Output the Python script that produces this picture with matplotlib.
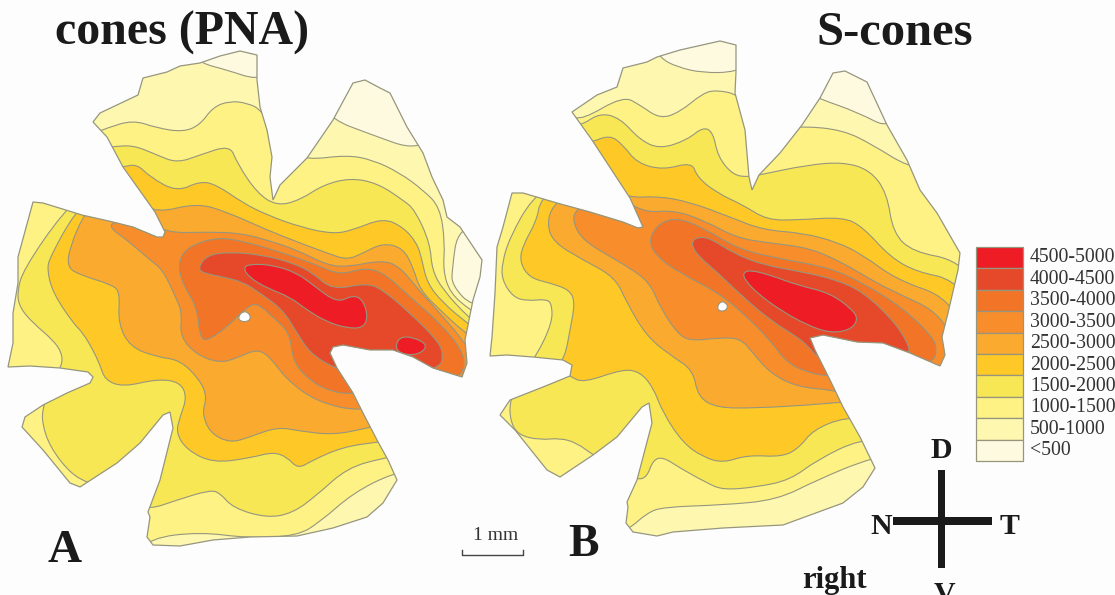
import matplotlib
matplotlib.use('Agg')
import matplotlib.pyplot as plt
from matplotlib.patches import PathPatch, Polygon, Rectangle
from matplotlib.path import Path

plt.rcParams['font.family'] = ['Liberation Serif', 'DejaVu Serif']

# Density classes, lowest first
class_labels = ['<500', '500-1000', '1000-1500', '1500-2000', '2000-2500',
                '2500-3000', '3000-3500', '3500-4000', '4000-4500', '4500-5000']
class_colors = ['#FEFADF', '#FEF7B0', '#FDF283', '#F7E755', '#FEC926',
                '#FBAA30', '#F78E2B', '#F27426', '#E5492A', '#EE1C25']

# Panel A (all cones) in image pixels
a_outline = [(200,63),(220,56),(240,51),(257,55),(257,80),(260,107),(267,130),(272,157),(270,177),(273,200),
             (280,185),(307,158),(333,120),(353,83),(365,80),(380,88),(390,93),(407,127),(423,153),(432,177),
             (443,200),(447,217),(460,227),(482,260),(480,277),(473,300),(465,340),(467,363),(462,377),(433,368),
             (413,357),(393,350),(370,350),(343,345),(333,347),(330,353),(337,368),(353,393),(363,413),(377,440),
             (388,460),(397,480),(383,503),(367,517),(333,528),(297,536),(250,537),(213,540),(180,546),(153,545),
             (147,537),(150,517),(148,512),(160,480),(173,428),(170,412),(163,415),(140,443),(117,463),(80,487),
             (70,483),(43,450),(22,427),(25,417),(43,405),(67,393),(90,383),(93,377),(88,372),(60,368),
             (30,366),(8,367),(13,343),(13,313),(18,283),(18,257),(33,202),(43,203),(82,215),(113,222),
             (133,227),(157,237),(163,237),(165,232),(155,212),(123,167),(107,137),(93,122),(100,113),(138,95),
             (143,78),(167,72),(180,66)]
a_hole = [(238,317),(243,311),(249,313),(251,319),(246,322),(240,321)]

a_lt500 = [[(200,63),(227,70),(257,80),(275,70),(240,35),(190,50)],
           [(333,120),(367,133),(420,152),(445,120),(370,60),(320,100)],
           [(458,227),(452,270),(452,285),(472,307),(500,300),(500,220)]]
a_ge1000 = [(95,133),(107,128),(133,120),(157,128),(183,132),(200,125),(213,107),(230,101),(247,103),(262,110),
            (285,150),(307,160),(347,155),(373,160),(400,173),(423,190),(440,207),(445,243),(443,270),(450,293),
            (470,310),(500,330),(500,420),(420,470),(393,473),(353,493),(320,522),(297,536),(247,538),(200,532),
            (150,538),(130,560),(0,520),(0,400),(20,190)]
a_ge1500 = [(112,147),(133,145),(157,155),(177,163),(200,155),(230,145),(237,163),(257,193),(277,206),(300,200),
            (323,185),(350,178),(377,183),(403,200),(415,210),(430,243),(432,270),(443,290),(468,317),(495,340),
            (495,440),(400,456),(383,458),(347,468),(317,495),(293,513),(267,518),(233,508),(220,493),(210,490),
            (177,500),(148,510),(130,500),(88,483),(70,473),(50,447),(42,423),(43,407),(50,385),(62,366),
            (62,353),(53,340),(33,323),(20,308),(17,293),(23,270),(63,212),(90,190),(100,147)]
a_ge2000 = [(123,167),(137,164),(150,177),(177,192),(200,181),(217,185),(243,203),(267,215),(300,227),(333,234),
            (353,230),(383,218),(403,227),(417,243),(422,260),(427,283),(443,303),(467,323),(490,340),(490,420),
            (400,440),(377,442),(343,447),(313,460),(298,469),(287,457),(273,452),(250,458),(213,463),(187,450),
            (176,433),(180,417),(187,397),(180,382),(157,379),(123,387),(105,380),(100,365),(93,350),(83,333),
            (73,323),(53,293),(47,270),(50,257),(75,212),(100,190),(115,167)]
a_ge2500 = [(83,216),(70,247),(67,267),(80,275),(113,285),(120,293),(118,323),(130,347),(157,357),(180,360),
            (200,380),(207,397),(202,413),(210,433),(230,443),(250,437),(277,427),(300,431),(333,435),(368,428),
            (400,420),(490,400),(490,350),(465,333),(440,310),(420,290),(413,267),(403,248),(383,243),(363,253),
            (347,260),(327,253),(300,243),(267,230),(227,212),(197,203),(157,213),(135,200),(100,195)]
a_ge3000 = [(113,222),(110,228),(127,240),(150,260),(163,270),(177,300),(182,313),(180,337),(197,355),(220,363),
            (237,358),(257,349),(270,357),(287,380),(317,402),(362,412),(400,400),(490,380),(463,340),(437,310),
            (417,288),(400,267),(383,260),(347,267),(327,265),(297,250),(267,240),(240,233),(207,232),(165,233),
            (140,215)]
a_ge3500 = [(178,263),(187,247),(217,237),(247,242),(283,253),(317,265),(340,275),(363,268),(383,272),(410,297),
            (440,323),(462,350),(465,367),(458,378),(400,390),(350,394),(333,392),(313,383),(293,363),(290,333),
            (273,317),(257,303),(247,307),(227,327),(207,341),(200,337),(197,307),(182,283)]
a_ge4000 = [(198,268),(207,255),(230,252),(263,255),(293,263),(313,273),(332,290),(367,283),(383,290),(410,313),
            (440,343),(443,357),(440,367),(410,375),(345,370),(332,367),(310,353),(297,333),(283,310),(260,293),
            (243,282),(223,277),(203,273)]
a_ge4500 = [[(243,268),(250,264),(273,265),(297,273),(313,285),(337,303),(353,295),(363,300),(368,317),(363,328),
             (347,328),(327,322),(307,310),(290,297),(267,288),(250,278)],
            [(395,349),(399,337),(413,337),(428,345),(420,354),(405,355)]]

# Panel B (S-cones)
b_outline = [(657,57),(680,50),(720,41),(736,45),(736,72),(735,93),(745,130),(749,177),(752,190),(759,175),
             (780,153),(802,125),(820,98),(833,73),(845,71),(867,82),(887,125),(907,160),(920,190),(937,213),
             (960,253),(958,270),(948,313),(942,337),(945,355),(940,366),(910,353),(883,343),(857,342),(823,335),
             (810,338),(815,350),(830,380),(843,407),(860,437),(875,468),(863,487),(843,503),(783,525),(723,528),
             (673,532),(657,536),(633,532),(626,523),(628,507),(627,502),(637,480),(652,423),(649,403),(642,407),
             (617,437),(593,455),(560,477),(547,470),(515,430),(500,415),(510,400),(543,387),(570,376),(572,365),
             (563,360),(533,357),(507,355),(490,356),(492,337),(495,293),(497,247),(503,227),(512,193),(523,193),
             (557,203),(590,212),(623,222),(638,228),(643,227),(630,198),(592,140),(572,112),(597,95),(617,87),
             (623,68),(647,62)]
b_hole = [(717,307),(721,301),(726,303),(728,307),(725,311),(719,311)]

b_lt500 = [[(660,58),(677,67),(703,73),(736,72),(760,60),(730,25),(650,40)],
           [(820,99),(857,112),(892,130),(900,90),(840,50),(800,90)]]
b_ge1000 = [(570,115),(582,120),(623,96),(640,105),(660,119),(680,112),(703,93),(717,90),(740,95),(775,130),
            (802,126),(843,130),(873,145),(908,167),(940,170),(1000,300),(950,440),(870,458),(817,480),(777,500),
            (723,505),(663,507),(647,513),(628,530),(600,540),(480,500),(480,180)]
b_ge1500 = [(570,125),(582,125),(600,113),(620,118),(640,140),(660,149),(687,140),(703,127),(713,132),(718,157),
            (733,175),(748,177),(759,175),(807,165),(843,162),(870,170),(887,193),(893,233),(913,252),(958,260),
            (990,300),(900,440),(860,439),(817,460),(790,480),(757,487),(723,490),(707,483),(680,468),(663,457),
            (653,460),(647,477),(637,480),(620,470),(593,455),(577,443),(560,438),(540,440),(518,435),(510,420),
            (510,400),(520,378),(537,355),(552,323),(552,305),(547,299),(527,301),(513,297),(502,280),(502,263),
            (510,237),(532,198),(560,180)]
b_ge2000 = [(585,142),(592,142),(610,135),(623,145),(637,163),(663,170),(692,162),(697,177),(717,193),(743,205),
            (767,220),(797,220),(843,217),(863,227),(890,257),(917,272),(953,279),(990,320),(880,420),(845,417),
            (813,430),(800,447),(783,457),(747,455),(723,463),(703,457),(683,443),(663,413),(653,387),(640,372),
            (623,369),(583,383),(570,376),(555,368),(565,357),(570,330),(575,303),(570,290),(550,283),(530,278),
            (520,263),(522,247),(537,220),(540,200),(570,170)]
b_ge2500 = [(553,205),(547,223),(553,242),(583,260),(615,277),(627,303),(647,337),(673,357),(693,370),(698,397),
            (717,408),(757,408),(810,405),(842,402),(900,400),(970,350),(950,298),(897,280),(863,255),(837,242),
            (803,233),(763,230),(730,217),(690,202),(657,196),(630,198),(600,185),(570,195)]
b_ge3000 = [(575,209),(573,223),(583,240),(607,255),(630,268),(650,283),(660,307),(677,333),(690,341),(717,338),
            (740,338),(753,353),(770,373),(797,387),(833,390),(880,400),(960,370),(945,315),(890,290),(863,275),
            (843,263),(810,248),(770,243),(737,238),(703,220),(673,210),(643,213),(610,190)]
b_ge3500 = [(648,240),(660,222),(680,218),(707,230),(740,250),(787,260),(830,268),(863,283),(903,308),(933,337),
            (937,350),(933,363),(890,370),(840,375),(825,376),(807,372),(787,363),(770,340),(743,313),(717,292),
            (680,273),(657,257)]
b_ge4000 = [(691,243),(697,237),(710,238),(733,253),(763,265),(803,272),(837,280),(863,292),(893,320),(908,343),
            (910,355),(880,365),(820,360),(807,345),(797,337),(770,320),(743,297),(717,272),(697,255)]
b_ge4500 = [(743,273),(750,270),(770,275),(797,285),(830,293),(853,310),(858,320),(850,330),(830,333),(807,325),
            (780,310),(757,293),(745,280)]

line_col = '#96967F'
bg_col = '#FDFDFE'


def smooth_path(pts):
    # closed quadratic bezier through the midpoints, contours are not polygons
    verts = []
    codes = []
    n = len(pts)
    mid = lambda p, q: ((p[0] + q[0]) / 2, (p[1] + q[1]) / 2)
    verts.append(mid(pts[-1], pts[0]))
    codes.append(Path.MOVETO)
    for i in range(n):
        verts.append(pts[i])
        codes.append(Path.CURVE3)
        verts.append(mid(pts[i], pts[(i + 1) % n]))
        codes.append(Path.CURVE3)
    return Path(verts, codes)


def draw_panel(ax, outline, hole, layers):
    base = Polygon(outline, closed=True, fc=class_colors[1], ec='none', zorder=1)
    ax.add_patch(base)
    for k, (level, pts) in enumerate(layers):
        p = PathPatch(smooth_path(pts), fc=class_colors[level], ec=line_col, lw=0.8, zorder=2 + k)
        ax.add_patch(p)
        p.set_clip_path(base)
    ax.add_patch(Polygon(outline, closed=True, fc='none', ec=line_col, lw=0.9, zorder=30))
    ax.add_patch(PathPatch(smooth_path(hole), fc='white', ec=line_col, lw=0.8, zorder=31))


fig = plt.figure(figsize=(11.15, 5.95), dpi=100, facecolor=bg_col)
ax = fig.add_axes([0, 0, 1, 1])
ax.set_xlim(0, 1115)
ax.set_ylim(595, 0)
ax.axis('off')

layers_a = [(2, a_ge1000)] + [(0, p) for p in a_lt500] + [(3, a_ge1500), (4, a_ge2000), (5, a_ge2500),
            (6, a_ge3000), (7, a_ge3500), (8, a_ge4000)] + [(9, p) for p in a_ge4500]
layers_b = [(2, b_ge1000)] + [(0, p) for p in b_lt500] + [(3, b_ge1500), (4, b_ge2000), (5, b_ge2500),
            (6, b_ge3000), (7, b_ge3500), (8, b_ge4000), (9, b_ge4500)]
draw_panel(ax, a_outline, a_hole, layers_a)
draw_panel(ax, b_outline, b_hole, layers_b)

# Legend
for i in range(10):
    top = 247 + 21.4 * i
    ax.add_patch(Rectangle((976, top), 47, 21.4, fc=class_colors[9 - i], ec=line_col, lw=0.9, zorder=5))
    ax.text(1030, top + 15.5, class_labels[9 - i], fontsize=14.2, color='#333333', va='baseline', ha='left')

# Titles and panel letters
ax.text(55, 45, 'cones (PNA)', fontsize=34.5, fontweight='bold', color='#1A1A1A', va='baseline')
ax.text(816, 45, 'S-cones', fontsize=35, fontweight='bold', color='#1A1A1A', va='baseline')
ax.text(47, 562, 'A', fontsize=34, fontweight='bold', color='#1A1A1A', va='baseline')
ax.text(568, 556, 'B', fontsize=33, fontweight='bold', color='#1A1A1A', va='baseline')

# Scale bar
ax.plot([462, 462, 523, 523], [550, 555, 555, 550], color='#444444', lw=1.0, zorder=5)
ax.text(496, 540, '1 mm', fontsize=14, color='#333333', ha='center', va='baseline')

# Orientation cross
ax.add_patch(Rectangle((938, 470), 7, 98, fc='#1A1A1A', ec='none', zorder=5))
ax.add_patch(Rectangle((893, 517), 99, 8, fc='#1A1A1A', ec='none', zorder=5))
ax.text(941, 458, 'D', fontsize=21.5, fontweight='bold', color='#1A1A1A', ha='center', va='baseline')
ax.text(881, 534, 'N', fontsize=21.5, fontweight='bold', color='#1A1A1A', ha='center', va='baseline')
ax.text(1009, 534, 'T', fontsize=21.5, fontweight='bold', color='#1A1A1A', ha='center', va='baseline')
ax.text(944, 602, 'V', fontsize=21.5, fontweight='bold', color='#1A1A1A', ha='center', va='baseline', clip_on=True)
ax.text(802, 588, 'right', fontsize=22, fontweight='bold', color='#1A1A1A', va='baseline')

fig.savefig('out.png', dpi=100, facecolor=bg_col)
